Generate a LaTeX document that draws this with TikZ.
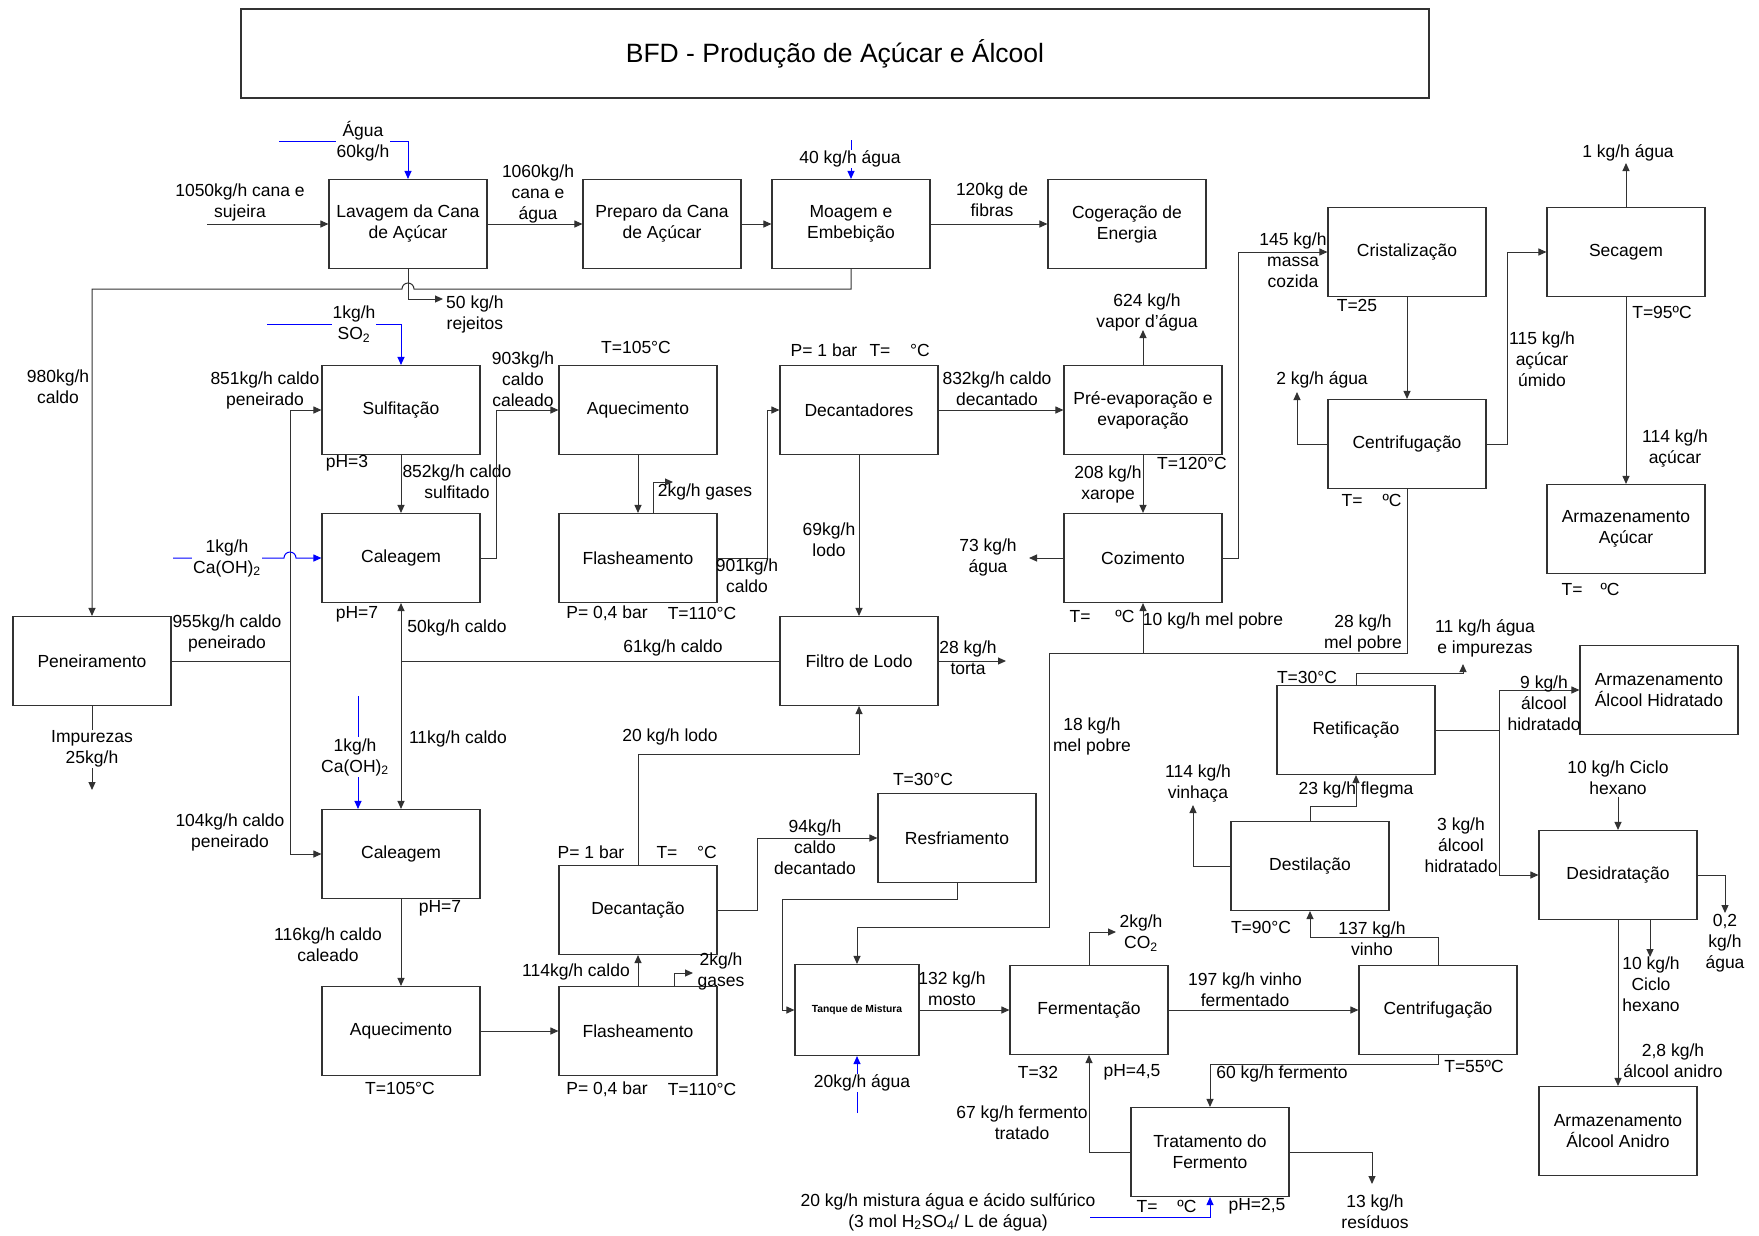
\documentclass[tikz,border=0pt]{standalone}
\usepackage{fontspec}
\setmainfont{Liberation Sans}
\usepackage{xcolor}
\definecolor{feedblue}{RGB}{0,0,255}
\definecolor{linegray}{RGB}{50,50,50}
\usepackage{tikz}
\usetikzlibrary{arrows.meta}
\newcommand{\lblfont}{\fontsize{17.5}{21}\selectfont}

\begin{document}
\begin{tikzpicture}[x=1pt,y=-1pt,
            box/.style={draw=linegray,line width=1.1pt,minimum width=158pt,minimum height=89pt,inner sep=0pt,align=center,font=\lblfont},
            lbl/.style={align=center,inner sep=0pt,font=\lblfont},
            wlbl/.style={lbl,fill=white,inner sep=1pt},
            flow/.style={draw=linegray,line width=1pt,-{Triangle[length=8pt,width=7pt]}},
            pipe/.style={draw=linegray,line width=1pt},
            feed/.style={flow,draw=feedblue}]
            \useasboundingbox (0,0) rectangle (1759,1235);
            \node[draw=linegray,line width=1.1pt,minimum width=1188pt,minimum height=89pt] (title) at (835,53.5) {\fontsize{26.5}{30}\selectfont BFD - Produção de Açúcar e Álcool};
            \node[box] (lav) at (408,224) {Lavagem da Cana\\de Açúcar};
            \node[box] (prep) at (662,224) {Preparo da Cana\\de Açúcar};
            \node[box] (moag) at (851,224) {Moagem e\\Embebição};
            \node[box] (cog) at (1127,224) {Cogeração de\\Energia};
            \node[box] (cris) at (1407,252) {Cristalização};
            \node[box] (sec) at (1626,252) {Secagem};
            \node[box] (cent1) at (1407,444) {Centrifugação};
            \node[box] (armac) at (1626,529) {Armazenamento\\Açúcar};
            \node[box] (sulf) at (401,410) {Sulfitação};
            \node[box] (cal1) at (401,558) {Caleagem};
            \node[box] (aq1) at (638,410) {Aquecimento};
            \node[box] (fl1) at (638,558) {Flasheamento};
            \node[box] (dec1) at (859,410) {Decantadores};
            \node[box] (preev) at (1143,410) {Pré-evaporação e\\evaporação};
            \node[box] (coz) at (1143,558) {Cozimento};
            \node[box] (filt) at (859,661) {Filtro de Lodo};
            \node[box] (pen) at (92,661) {Peneiramento};
            \node[box] (cal2) at (401,854) {Caleagem};
            \node[box] (aq2) at (401,1031) {Aquecimento};
            \node[box] (fl2) at (638,1031) {Flasheamento};
            \node[box] (dec2) at (638,910) {Decantação};
            \node[box] (resf) at (957,838) {Resfriamento};
            \node[box,minimum width=124pt,minimum height=91pt,font=\bfseries\fontsize{10.3}{12}\selectfont] (tanq) at (857,1010) {Tanque de Mistura};
            \node[box] (ferm) at (1089,1010) {Fermentação};
            \node[box] (cent2) at (1438,1010) {Centrifugação};
            \node[box] (trat) at (1210,1152) {Tratamento do\\Fermento};
            \node[box] (dest) at (1310,866) {Destilação};
            \node[box] (ret) at (1356,730) {Retificação};
            \node[box] (armhid) at (1659,690) {Armazenamento\\Álcool Hidratado};
            \node[box] (desid) at (1618,875) {Desidratação};
            \node[box] (armanid) at (1618,1131) {Armazenamento\\Álcool Anidro};
            % moagem
            \coordinate (cana) at (207,224);
            \draw[flow] (cana) -- (lav.west);
            \node[lbl] (tcana) at (240,202) {1050kg/h cana e\\sujeira};
            \coordinate (agua1) at (279,141);
            \draw[feed] (agua1) -| (lav.north);
            \node[wlbl] (tagua1) at (363,141) {Água\\60kg/h};
            \draw[flow] (lav) -- (prep);
            \node[lbl] (t1060) at (538,194) {1060kg/h\\cana e\\água};
            \draw[flow] (prep) -- (moag);
            \coordinate (agua2) at (851,140);
            \draw[feed] (agua2) -- (moag.north);
            \node[wlbl] (tagua2) at (850,159) {40 kg/h água};
            \draw[flow] (moag) -- (cog);
            \node[lbl] (t120) at (992,200) {120kg de\\fibras};
            \coordinate (rej) at (443,299);
            \draw[flow] (lav.south) |- (rej);
            \node[lbl,anchor=west] (trej) at (446,314) {50 kg/h\\rejeitos};
            \coordinate (hop1) at (414,289);
            \draw[flow] (moag.south) |- (hop1) arc[start angle=0,end angle=180,radius=6pt] -| (pen.north);
            \node[lbl] (t980) at (58,387) {980kg/h\\caldo};
            % tratamento do caldo
            \coordinate (bus) at (290,661);
            \draw[pipe] (pen) -- (bus);
            \draw[flow] (bus) |- (sulf.west);
            \draw[flow] (bus) |- (cal2.west);
            \node[lbl] (t955) at (227,633) {955kg/h caldo\\peneirado};
            \node[lbl] (t851) at (265,390) {851kg/h caldo\\peneirado};
            \node[lbl] (t104) at (230,832) {104kg/h caldo\\peneirado};
            \coordinate (imp) at (92,790);
            \draw[flow] (pen.south) -- (imp);
            \node[wlbl] (timp) at (92,749) {Impurezas\\25kg/h};
            \coordinate (so2) at (267,324);
            \draw[feed] (so2) -| (sulf.north);
            \node[wlbl] (tso2) at (354,324) {1kg/h\\SO\textsubscript{2}};
            \draw[flow] (sulf) -- (cal1);
            \node[lbl] (t852) at (457,482) {852kg/h caldo\\sulfitado};
            \node[lbl] (tph3) at (347,463) {pH=3};
            \coordinate (c903) at (496,558);
            \draw[flow] (cal1.east) -- (c903) |- (aq1.west);
            \node[lbl] (t903) at (523,379) {903kg/h\\caldo\\caleado};
            \coordinate (caoh1) at (173,558);
            \coordinate (hop2) at (284,558);
            \draw[feed] (caoh1) -- (hop2) arc[start angle=180,end angle=0,radius=6pt] -- (cal1.west);
            \node[wlbl] (tcaoh1) at (227,558) {1kg/h\\Ca(OH)\textsubscript{2}};
            \node[lbl] (tph7a) at (357,614) {pH=7};
            \coordinate (j50) at (401,661);
            \draw[pipe] (filt) -- (j50);
            \draw[flow] (j50) -- (cal1.south);
            \draw[flow] (j50) -- (cal2.north);
            \node[lbl] (t50) at (457,628) {50kg/h caldo};
            \node[lbl] (t61) at (673,648) {61kg/h caldo};
            \node[lbl] (t11) at (458,739) {11kg/h caldo};
            \coordinate (caoh2) at (358,696);
            \draw[feed] (caoh2) -- (cal2.north -| caoh2);
            \node[wlbl] (tcaoh2) at (355,757) {1kg/h\\Ca(OH)\textsubscript{2}};
            \draw[flow] (aq1) -- (fl1);
            \node[lbl] (tT105a) at (636,347) {T=105°C};
            \coordinate (g1) at (673,482);
            \draw[flow] ([xshift=15pt]fl1.north) |- (g1);
            \node[lbl] (tg1) at (705,492) {2kg/h gases};
            \coordinate (c901) at (767,558);
            \draw[flow] (fl1.east) -- (c901) |- (dec1.west);
            \node[lbl] (t901) at (747,576) {901kg/h\\caldo};
            \node[lbl] (tP04a) at (607,613) {P= 0,4 bar};
            \node[lbl] (tT110a) at (702,613) {T=110°C};
            \draw[flow] (dec1) -- (preev);
            \node[lbl] (t832) at (997,389) {832kg/h caldo\\decantado};
            \node[lbl] (tP1a) at (824,350) {P= 1 bar};
            \node[lbl] (tTa) at (880,350) {T=};
            \node[lbl] (tCa) at (920,350) {°C};
            \draw[flow] (dec1) -- (filt);
            \node[lbl] (t69) at (829,540) {69kg/h\\lodo};
            \coordinate (torta) at (1006,661);
            \draw[flow] (filt) -- (torta);
            \node[lbl] (ttorta) at (968,658) {28 kg/h\\torta};
            % evaporacao e cozimento
            \coordinate (vap) at (1143,330);
            \draw[flow] (preev) -- (vap);
            \node[lbl] (tvap) at (1147,312) {624 kg/h\\vapor d’água};
            \draw[flow] (preev) -- (coz);
            \node[lbl] (t208) at (1108,484) {208 kg/h\\xarope};
            \node[lbl] (tT120) at (1192,463) {T=120°C};
            \coordinate (a73) at (1029,558);
            \draw[flow] (coz) -- (a73);
            \node[lbl] (t73) at (988,557) {73 kg/h\\água};
            \coordinate (c145) at (1238,558);
            \draw[flow] (coz.east) -- (c145) |- (cris.west);
            \node[lbl] (t145) at (1293,260) {145 kg/h\\massa\\cozida};
            \node[lbl] (tTb) at (1080,616) {T=};
            \node[lbl] (tCb) at (1125,616) {ºC};
            \node[lbl] (t10mel) at (1213,621) {10 kg/h mel pobre};
            \coordinate (m1) at (1143,653);
            \coordinate (m2) at (1049,927);
            \draw[pipe] (cent1.south) |- (m1);
            \draw[flow] (m1) -- (coz.south);
            \draw[flow] (m1) -| (m2) -| (tanq.north);
            \node[lbl] (t28mel) at (1363,633) {28 kg/h\\mel pobre};
            \node[lbl] (t18mel) at (1092,736) {18 kg/h\\mel pobre};
            \node[lbl] (tTc) at (1352,500) {T=};
            \node[lbl] (tCc) at (1392,500) {ºC};
            % acucar
            \draw[flow] (cris) -- (cent1);
            \node[lbl] (tT25) at (1357,305) {T=25};
            \coordinate (a2) at (1297,392);
            \draw[flow] (cent1.west) -| (a2);
            \node[lbl] (t2agua) at (1322,380) {2 kg/h água};
            \coordinate (c115) at (1507,444);
            \draw[flow] (cent1.east) -- (c115) |- (sec.west);
            \node[lbl] (t115) at (1542,359) {115 kg/h\\açúcar\\úmido};
            \coordinate (a1) at (1626,163);
            \draw[flow] (sec) -- (a1);
            \node[lbl] (t1agua) at (1628,153) {1 kg/h água};
            \draw[flow] (sec) -- (armac);
            \node[lbl] (tT95) at (1662,312) {T=95ºC};
            \node[lbl] (t114ac) at (1675,449) {114 kg/h\\açúcar};
            \node[lbl] (tTd) at (1572,589) {T=};
            \node[lbl] (tCd) at (1610,589) {ºC};
            % caldo para alcool
            \coordinate (k20) at (859,754);
            \draw[flow] (dec2.north) |- (k20) -- (filt.south);
            \node[lbl] (t20lodo) at (670,737) {20 kg/h lodo};
            \node[lbl] (tP1b) at (591,852) {P= 1 bar};
            \node[lbl] (tTe) at (667,852) {T=};
            \node[lbl] (tCe) at (707,852) {°C};
            \draw[flow] (cal2) -- (aq2);
            \node[lbl] (t116) at (328,945) {116kg/h caldo\\caleado};
            \node[lbl] (tph7b) at (440,908) {pH=7};
            \draw[flow] (aq2) -- (fl2);
            \node[lbl] (tT105b) at (400,1088) {T=105°C};
            \draw[flow] (fl2) -- (dec2);
            \node[lbl] (t114c) at (576,972) {114kg/h caldo};
            \coordinate (g2) at (693,973);
            \draw[flow] ([xshift=36pt]fl2.north) |- (g2);
            \node[lbl] (tg2) at (721,971) {2kg/h\\gases};
            \node[lbl] (tP04b) at (607,1089) {P= 0,4 bar};
            \node[lbl] (tT110b) at (702,1089) {T=110°C};
            \coordinate (c94) at (757,910);
            \draw[flow] (dec2.east) -- (c94) |- (resf.west);
            \node[lbl] (t94) at (815,847) {94kg/h\\caldo\\decantado};
            \node[lbl] (tT30a) at (923,779) {T=30°C};
            \coordinate (r1) at (957,899);
            \coordinate (r2) at (782,1010);
            \draw[flow] (resf.south) -- (r1) -| (r2) -- (tanq.west);
            \coordinate (a20) at (857,1113);
            \draw[feed] (a20) -- (tanq.south);
            \node[wlbl] (t20agua) at (862,1083) {20kg/h água};
            % fermentacao
            \draw[flow] (tanq) -- (ferm);
            \node[lbl] (t132) at (952,989) {132 kg/h\\mosto};
            \coordinate (co2) at (1116,932);
            \draw[flow] (ferm.north) |- (co2);
            \node[lbl] (tco2) at (1141,933) {2kg/h\\CO\textsubscript{2}};
            \node[lbl] (tT32) at (1038,1072) {T=32};
            \node[lbl] (tph45) at (1132,1072) {pH=4,5};
            \draw[flow] (ferm) -- (cent2);
            \node[lbl] (t197) at (1245,990) {197 kg/h vinho\\fermentado};
            \coordinate (v1) at (1310,937);
            \draw[flow] (cent2.north) |- (v1) -- (dest.south);
            \node[lbl] (t137) at (1372,939) {137 kg/h\\vinho};
            \node[lbl] (tT90) at (1261,927) {T=90°C};
            \coordinate (f1) at (1210,1064);
            \draw[flow] (cent2.south) |- (f1) -- (trat.north);
            \node[lbl] (t60) at (1282,1074) {60 kg/h fermento};
            \node[lbl] (tT55) at (1474,1066) {T=55ºC};
            \coordinate (f3) at (1089,1152);
            \draw[flow] (trat.west) -- (f3) -- (ferm.south);
            \node[lbl] (t67) at (1022,1123) {67 kg/h fermento\\tratado};
            \coordinate (res) at (1372,1184);
            \draw[flow] (trat.east) -| (res);
            \node[lbl] (tres) at (1375,1212) {13 kg/h\\resíduos};
            \coordinate (acid) at (1090,1217);
            \draw[feed] (acid) -| (trat.south);
            \node[lbl] (tacid) at (948,1212) {20 kg/h mistura água e ácido sulfúrico\\(3 mol H\textsubscript{2}SO\textsubscript{4}/ L de água)};
            \node[lbl] (tTf) at (1147,1206) {T=};
            \node[lbl] (tCf) at (1187,1206) {ºC};
            \node[lbl] (tph25) at (1257,1206) {pH=2,5};
            % destilacao
            \coordinate (vin) at (1193,805);
            \draw[flow] (dest.west) -| (vin);
            \node[lbl] (t114vin) at (1198,784) {114 kg/h\\vinhaça};
            \coordinate (fl) at (1356,806);
            \draw[flow] (dest.north) |- (fl) -- (ret.south);
            \node[lbl] (t23) at (1356,790) {23 kg/h flegma};
            \coordinate (i1) at (1463,673);
            \coordinate (imp2) at (1463,664);
            \draw[flow] (ret.north) |- (i1) -- (imp2);
            \node[lbl] (t11agua) at (1485,638) {11 kg/h água\\e impurezas};
            \node[lbl] (tT30b) at (1307,677) {T=30°C};
            \coordinate (b1) at (1499,730);
            \draw[pipe] (ret) -- (b1);
            \draw[flow] (b1) |- (armhid.west);
            \draw[flow] (b1) |- (desid.west);
            \node[lbl] (t9) at (1544,703) {9 kg/h\\álcool\\hidratado};
            \node[lbl] (t3) at (1461,845) {3 kg/h\\álcool\\hidratado};
            \coordinate (hex1) at (1618,797);
            \draw[flow] (hex1) -- (desid.north);
            \node[lbl] (thex1) at (1618,778) {10 kg/h Ciclo\\hexano};
            \coordinate (w02) at (1725,913);
            \draw[flow] (desid.east) -| (w02);
            \node[lbl] (tw02) at (1725,943) {0,2\\kg/h\\água};
            \coordinate (hex2) at (1650,957);
            \draw[flow] ([xshift=32pt]desid.south) -- (hex2);
            \node[lbl] (thex2) at (1651,984) {10 kg/h\\Ciclo\\hexano};
            \draw[flow] (desid) -- (armanid);
            \node[lbl] (tanid) at (1673,1061) {2,8 kg/h\\álcool anidro};
        \end{tikzpicture}
\end{document}
